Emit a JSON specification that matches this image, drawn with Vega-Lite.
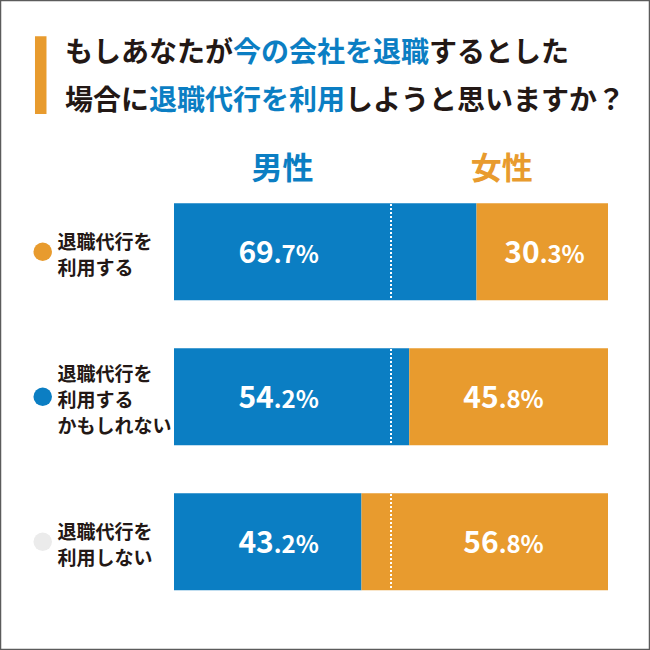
{
  "$schema": "https://vega.github.io/schema/vega-lite/v6.json",
  "autosize": {"type": "fit", "contains": "padding"},
  "width": 650,
  "height": 650,
  "padding": 0,
  "background": "white",
  "config": {
    "view": {"stroke": "#5b5b5b", "strokeWidth": 2.5},
    "font": "Noto Sans CJK JP",
    "text": {"font": "Noto Sans CJK JP"}
  },
  "datasets": {
    "answers": [
      {"row": 1, "answer": "退職代行を\n利用する", "male": 69.7, "female": 30.3},
      {"row": 2, "answer": "退職代行を\n利用する\nかもしれない", "male": 54.2, "female": 45.8},
      {"row": 3, "answer": "退職代行を\n利用しない", "male": 43.2, "female": 56.8}
    ],
    "title": [
      {"line": 1, "seg": 1, "text": "もしあなたが", "part": "plain"},
      {"line": 1, "seg": 2, "text": "今の会社を退職", "part": "emphasis"},
      {"line": 1, "seg": 3, "text": "するとした", "part": "plain"},
      {"line": 2, "seg": 1, "text": "場合に", "part": "plain"},
      {"line": 2, "seg": 2, "text": "退職代行を利用", "part": "emphasis"},
      {"line": 2, "seg": 3, "text": "しようと思いますか？", "part": "plain"}
    ],
    "genders": [{"gender": "男性"}, {"gender": "女性"}]
  },
  "data": {"name": "answers"},
  "layer": [
    {
      "data": {"values": [{}]},
      "mark": {"type": "rect", "color": "#E89B2E"},
      "encoding": {
        "x": {"datum": -32.03, "type": "quantitative", "scale": {"domain": [-40.092, 109.677], "nice": false, "zero": false}, "axis": null},
        "x2": {"datum": -29.38},
        "y": {"datum": -0.4861, "type": "quantitative", "scale": {"domain": [-0.7013, 3.7115], "nice": false, "zero": false, "reverse": true}, "axis": null},
        "y2": {"datum": 0.0502}
      }
    },
    {
      "data": {"name": "title"},
      "transform": [
        {"calculate": "length(datum.text)", "as": "len"},
        {"window": [{"op": "sum", "field": "len", "as": "cum"}], "groupby": ["line"], "sort": [{"field": "seg"}], "frame": [null, 0]},
        {"calculate": "-25.12 + (datum.cum - datum.len) * 28 / 4.34", "as": "tx"},
        {"calculate": "datum.line == 1 ? -0.3619 : -0.0326", "as": "ty"}
      ],
      "mark": {"type": "text", "align": "left", "baseline": "middle", "fontSize": 28, "fontWeight": "bold"},
      "encoding": {
        "x": {"field": "tx", "type": "quantitative", "scale": {"domain": [-40.092, 109.677], "nice": false, "zero": false}, "axis": null},
        "y": {"field": "ty", "type": "quantitative", "scale": {"domain": [-0.7013, 3.7115], "nice": false, "zero": false, "reverse": true}, "axis": null},
        "text": {"field": "text"},
        "color": {"condition": {"test": "datum.part == 'emphasis'", "value": "#0B7EC3"}, "value": "#231815"}
      }
    },
    {
      "data": {"name": "genders"},
      "transform": [{"calculate": "datum.gender == '男性' ? 25 : 75.5", "as": "hx"}],
      "mark": {"type": "text", "align": "center", "baseline": "middle", "fontSize": 31, "fontWeight": "bold"},
      "encoding": {
        "x": {"field": "hx", "type": "quantitative", "scale": {"domain": [-40.092, 109.677], "nice": false, "zero": false}, "axis": null},
        "y": {"datum": 0.4392, "type": "quantitative", "scale": {"domain": [-0.7013, 3.7115], "nice": false, "zero": false, "reverse": true}, "axis": null},
        "text": {"field": "gender"},
        "color": {"condition": {"test": "datum.gender == '男性'", "value": "#0B7EC3"}, "value": "#E89B2E"}
      }
    },
    {
      "mark": {"type": "bar", "size": 97, "color": "#0B7EC3"},
      "encoding": {
        "x": {"field": "male", "type": "quantitative", "scale": {"domain": [-40.092, 109.677], "nice": false, "zero": false}, "axis": null},
        "x2": {"datum": 0},
        "y": {"field": "row", "type": "quantitative", "scale": {"domain": [-0.7013, 3.7115], "nice": false, "zero": false, "reverse": true}, "axis": null}
      }
    },
    {
      "mark": {"type": "bar", "size": 97, "color": "#E89B2E"},
      "encoding": {
        "x": {"field": "male", "type": "quantitative", "scale": {"domain": [-40.092, 109.677], "nice": false, "zero": false}, "axis": null},
        "x2": {"datum": 100},
        "y": {"field": "row", "type": "quantitative", "scale": {"domain": [-0.7013, 3.7115], "nice": false, "zero": false, "reverse": true}, "axis": null}
      }
    },
    {
      "transform": [
        {"calculate": "datum.row - 0.329", "as": "top"},
        {"calculate": "datum.row + 0.329", "as": "bot"}
      ],
      "mark": {"type": "rule", "color": "white", "strokeWidth": 2, "strokeDash": [2, 2]},
      "encoding": {
        "x": {"datum": 50, "type": "quantitative", "scale": {"domain": [-40.092, 109.677], "nice": false, "zero": false}, "axis": null},
        "y": {"field": "top", "type": "quantitative", "scale": {"domain": [-0.7013, 3.7115], "nice": false, "zero": false, "reverse": true}, "axis": null},
        "y2": {"field": "bot"}
      }
    },
    {
      "transform": [
        {"calculate": "format(floor(datum.male), 'd')", "as": "big"},
        {"calculate": "'.' + (round(datum.male * 10) % 10) + '%'", "as": "small"},
        {"calculate": "23", "as": "split"}
      ],
      "layer": [
        {
          "mark": {"type": "text", "align": "right", "baseline": "alphabetic", "dy": 11, "fontSize": 30, "fontWeight": "bold", "color": "white"},
          "encoding": {
            "x": {"field": "split", "type": "quantitative", "scale": {"domain": [-40.092, 109.677], "nice": false, "zero": false}, "axis": null},
            "y": {"field": "row", "type": "quantitative", "scale": {"domain": [-0.7013, 3.7115], "nice": false, "zero": false, "reverse": true}, "axis": null},
            "text": {"field": "big"}
          }
        },
        {
          "mark": {"type": "text", "align": "left", "baseline": "alphabetic", "dy": 11, "fontSize": 24, "fontWeight": "bold", "color": "white"},
          "encoding": {
            "x": {"field": "split", "type": "quantitative", "scale": {"domain": [-40.092, 109.677], "nice": false, "zero": false}, "axis": null},
            "y": {"field": "row", "type": "quantitative", "scale": {"domain": [-0.7013, 3.7115], "nice": false, "zero": false, "reverse": true}, "axis": null},
            "text": {"field": "small"}
          }
        }
      ]
    },
    {
      "transform": [
        {"calculate": "format(floor(datum.female), 'd')", "as": "big"},
        {"calculate": "'.' + (round(datum.female * 10) % 10) + '%'", "as": "small"},
        {"calculate": "datum.male > 62.5 ? (datum.male + 100) / 2 - 0.6 : 74.8", "as": "split"}
      ],
      "layer": [
        {
          "mark": {"type": "text", "align": "right", "baseline": "alphabetic", "dy": 11, "fontSize": 30, "fontWeight": "bold", "color": "white"},
          "encoding": {
            "x": {"field": "split", "type": "quantitative", "scale": {"domain": [-40.092, 109.677], "nice": false, "zero": false}, "axis": null},
            "y": {"field": "row", "type": "quantitative", "scale": {"domain": [-0.7013, 3.7115], "nice": false, "zero": false, "reverse": true}, "axis": null},
            "text": {"field": "big"}
          }
        },
        {
          "mark": {"type": "text", "align": "left", "baseline": "alphabetic", "dy": 11, "fontSize": 24, "fontWeight": "bold", "color": "white"},
          "encoding": {
            "x": {"field": "split", "type": "quantitative", "scale": {"domain": [-40.092, 109.677], "nice": false, "zero": false}, "axis": null},
            "y": {"field": "row", "type": "quantitative", "scale": {"domain": [-0.7013, 3.7115], "nice": false, "zero": false, "reverse": true}, "axis": null},
            "text": {"field": "small"}
          }
        }
      ]
    },
    {
      "mark": {"type": "point", "filled": true, "opacity": 1, "size": 342, "shape": "circle"},
      "encoding": {
        "x": {"datum": -30.25, "type": "quantitative", "scale": {"domain": [-40.092, 109.677], "nice": false, "zero": false}, "axis": null},
        "y": {"field": "row", "type": "quantitative", "scale": {"domain": [-0.7013, 3.7115], "nice": false, "zero": false, "reverse": true}, "axis": null},
        "color": {"condition": [{"test": "datum.row == 1", "value": "#E89B2E"}, {"test": "datum.row == 2", "value": "#0B7EC3"}], "value": "#EBEBEB"}
      }
    },
    {
      "transform": [
        {"calculate": "datum.row + (4 - (length(split(datum.answer, '\\n')) - 1) * 13) / 147.3", "as": "ly"}
      ],
      "mark": {"type": "text", "align": "left", "baseline": "middle", "fontSize": 19, "fontWeight": "bold", "lineBreak": "\n", "lineHeight": 26, "color": "#231815"},
      "encoding": {
        "x": {"datum": -26.84, "type": "quantitative", "scale": {"domain": [-40.092, 109.677], "nice": false, "zero": false}, "axis": null},
        "y": {"field": "ly", "type": "quantitative", "scale": {"domain": [-0.7013, 3.7115], "nice": false, "zero": false, "reverse": true}, "axis": null},
        "text": {"field": "answer"}
      }
    }
  ]
}
